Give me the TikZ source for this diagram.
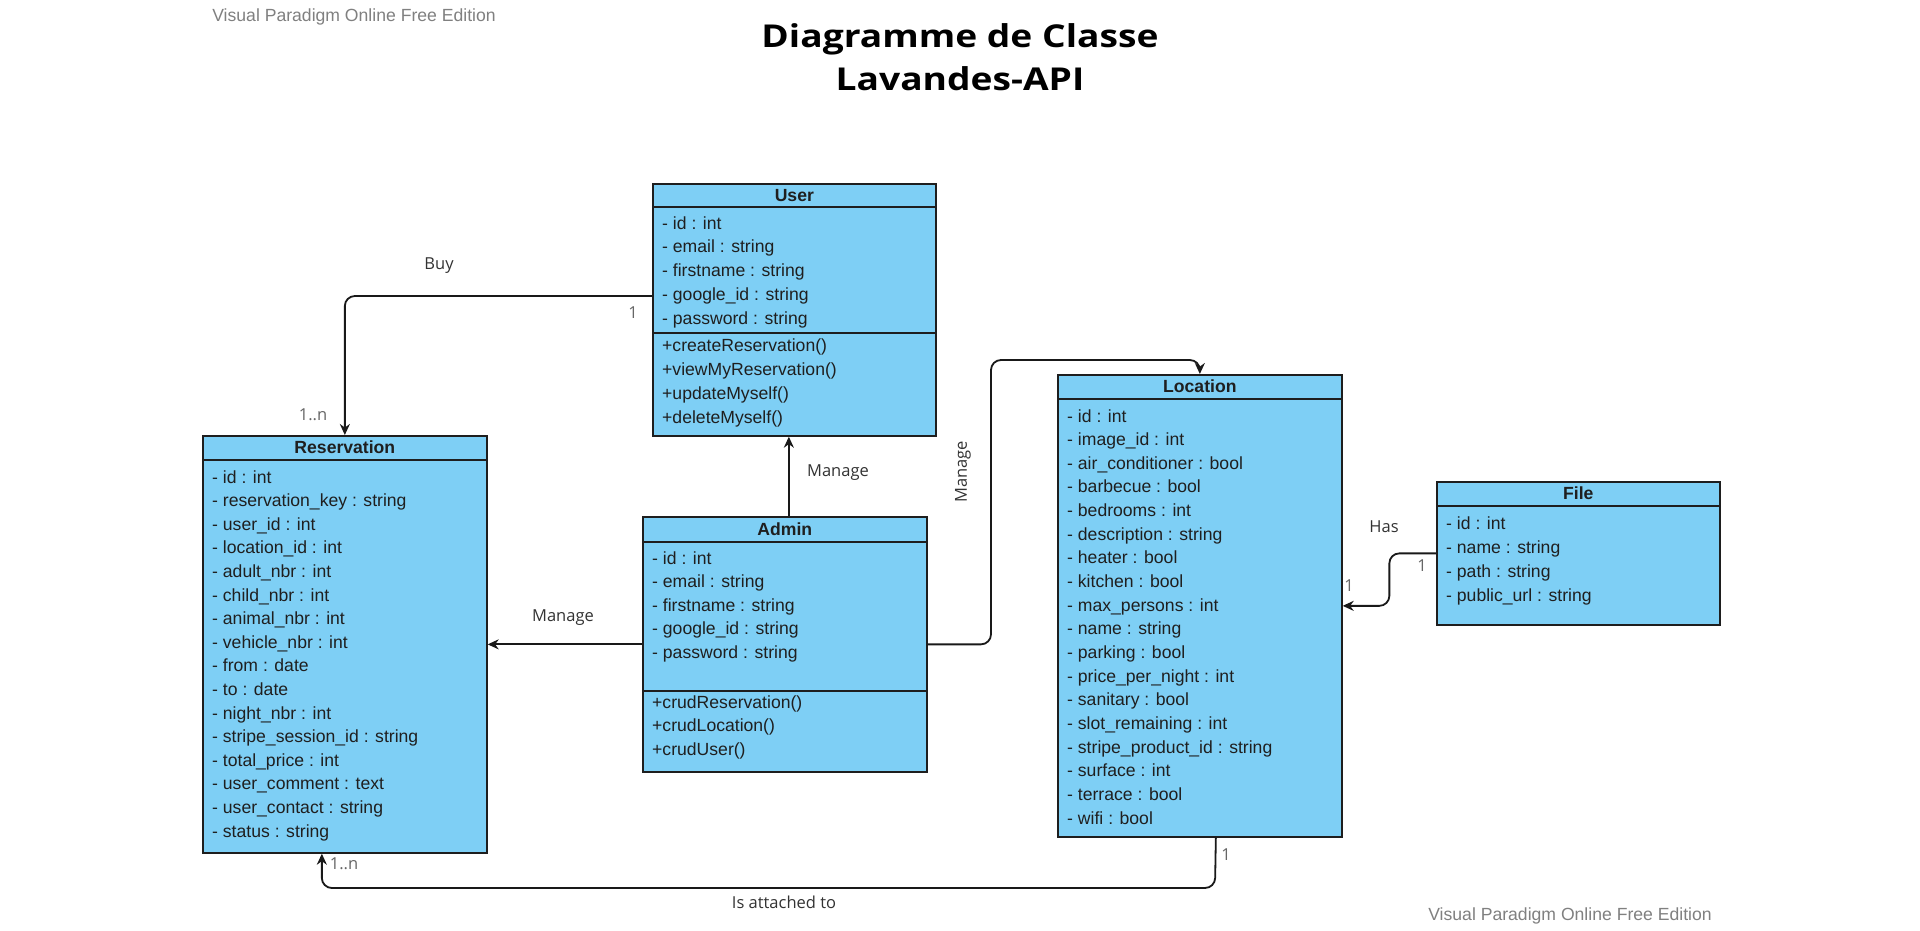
\documentclass[tikz,border=0pt]{standalone}
\usepackage{fontspec}
\setmainfont{Liberation Sans}
\newfontfamily\opensans{Open Sans}
\newfontfamily\titlefont[FakeStretch=1.18]{Open Sans}
\usetikzlibrary{arrows.meta,calc}
\definecolor{cfill}{RGB}{126,207,245}
\definecolor{cline}{RGB}{30,30,30}
\tikzset{
 classbox/.style={draw=cline, line width=1.7pt, fill=cfill, anchor=north west, inner sep=0pt},
 divline/.style={draw=cline, line width=1.7pt},
 attr/.style={anchor=west, inner sep=0pt, text height=13pt, text depth=1pt, font=\fontsize{17.6}{20}\selectfont, text=black!88},
 ctitle/.style={inner sep=0pt, text height=13pt, text depth=1pt, font=\bfseries\fontsize{17.6}{20}\selectfont, text=black!88},
 conn/.style={draw=black!90, line width=1.8pt, rounded corners=10pt, -{Stealth[length=11pt,width=10pt]}},
 lbl/.style={inner sep=0pt, font=\opensans\fontsize{16.5}{20}\selectfont, text=black!80},
 mult/.style={inner sep=0pt, font=\opensans\fontsize{16.5}{20}\selectfont, text=black!60},
 wm/.style={inner sep=0pt, font=\fontsize{17.6}{20}\selectfont, text=black!50},
 ttl/.style={inner sep=0pt, anchor=base, font=\titlefont\bfseries\fontsize{31.5}{36}\selectfont, text=black},
}
\begin{document}
\begin{tikzpicture}[x=1pt,y=-1pt]
\useasboundingbox[fill=white] (0,0) rectangle (1920,930);

% watermarks and title
\node[wm] (wm1) at (354,17) {Visual Paradigm Online Free Edition};
\node[wm] (wm2) at (1570,916) {Visual Paradigm Online Free Edition};
\node[ttl] (t1) at (960,47) {Diagramme de Classe};
\node[ttl] (t2) at (960,90) {Lavandes-API};

% User
\node[classbox, minimum width=283pt, minimum height=252pt] (user) at (652,183) {};
\draw[divline] ([yshift=-24pt]user.north west) -- ([yshift=-24pt]user.north east);
\draw[divline] ([yshift=-150pt]user.north west) -- ([yshift=-150pt]user.north east);
\node[ctitle] (usert) at ($(user.north)+(0,12)$) {User};
\foreach \t [count=\i from 0] in {- id : int, - email : string, - firstname : string, - google\_id : string, - password : string}
  \node[attr] at (662,223+23.75*\i) {\t};
\foreach \t [count=\i from 0] in {+createReservation(), +viewMyReservation(), +updateMyself(), +deleteMyself()}
  \node[attr] at (662,345+24*\i) {\t};

% Reservation
\node[classbox, minimum width=284pt, minimum height=417pt] (res) at (202,435) {};
\draw[divline] ([yshift=-25pt]res.north west) -- ([yshift=-25pt]res.north east);
\node[ctitle] (rest) at ($(res.north)+(0,12.5)$) {Reservation};
\foreach \t [count=\i from 0] in {- id : int, - reservation\_key : string, - user\_id : int, - location\_id : int, - adult\_nbr : int, - child\_nbr : int, - animal\_nbr : int, - vehicle\_nbr : int, - from : date, - to : date, - night\_nbr : int, - stripe\_session\_id : string, - total\_price : int, - user\_comment : text, - user\_contact : string, - status : string}
  \node[attr] at (212,477+23.6*\i) {\t};

% Admin
\node[classbox, minimum width=284pt, minimum height=255pt] (admin) at (642,516) {};
\draw[divline] ([yshift=-26pt]admin.north west) -- ([yshift=-26pt]admin.north east);
\draw[divline] ([yshift=-175pt]admin.north west) -- ([yshift=-175pt]admin.north east);
\node[ctitle] (admint) at ($(admin.north)+(0,13)$) {Admin};
\foreach \t [count=\i from 0] in {- id : int, - email : string, - firstname : string, - google\_id : string, - password : string}
  \node[attr] at (652,558+23.5*\i) {\t};
\foreach \t [count=\i from 0] in {+crudReservation(), +crudLocation(), +crudUser()}
  \node[attr] at (652,702+23.5*\i) {\t};

% Location
\node[classbox, minimum width=284pt, minimum height=462pt] (loc) at (1057,374) {};
\draw[divline] ([yshift=-25pt]loc.north west) -- ([yshift=-25pt]loc.north east);
\node[ctitle] (loct) at ($(loc.north)+(0,12.5)$) {Location};
\foreach \t [count=\i from 0] in {- id : int, - image\_id : int, - air\_conditioner : bool, - barbecue : bool, - bedrooms : int, - description : string, - heater : bool, - kitchen : bool, - max\_persons : int, - name : string, - parking : bool, - price\_per\_night : int, - sanitary : bool, - slot\_remaining : int, - stripe\_product\_id : string, - surface : int, - terrace : bool, - wifi : bool}
  \node[attr] at (1067,416+23.65*\i) {\t};

% File
\node[classbox, minimum width=283pt, minimum height=143pt] (file) at (1436,481) {};
\draw[divline] ([yshift=-25pt]file.north west) -- ([yshift=-25pt]file.north east);
\node[ctitle] (filet) at ($(file.north)+(0,12.5)$) {File};
\foreach \t [count=\i from 0] in {- id : int, - name : string, - path : string, - public\_url : string}
  \node[attr] at (1446,523+24*\i) {\t};

% connectors
\draw[conn] ([yshift=-113pt]user.north west) -| (res.north);
\draw[conn] ([xshift=4pt]admin.north) -- ([xshift=4pt]admin.north |- user.south);
\draw[conn] (admin.west) -- (res.east);
\coordinate (mbend) at (991,360);
\draw[conn] (admin.east) -| (mbend) -| (loc.north);
\draw[conn] (file.west) -| ($(file.west)!.5!(loc.east)$) |- (loc.east);
\coordinate (abend) at (1215,888);
\draw[conn] ([xshift=16pt]loc.south) -- (abend) -| ([xshift=-23pt]res.south);

% labels
\node[lbl] (lbuy) at (439,266) {Buy};
\node[mult] at (633,313) {1};
\node[mult] at (313,415) {1..n};
\node[lbl] (lm1) at (838,473) {Manage};
\node[lbl] (lm2) at (563,618) {Manage};
\node[lbl, rotate=90] (lm3) at (963,472) {Manage};
\node[lbl] (lhas) at (1384,527) {Has};
\node[mult] at (1349,586) {1};
\node[mult] at (1422,566) {1};
\node[mult] at (344,864) {1..n};
\node[mult] at (1226,855) {1};
\node[lbl] (latt) at (784,902) {Is attached to};
\end{tikzpicture}
\end{document}
